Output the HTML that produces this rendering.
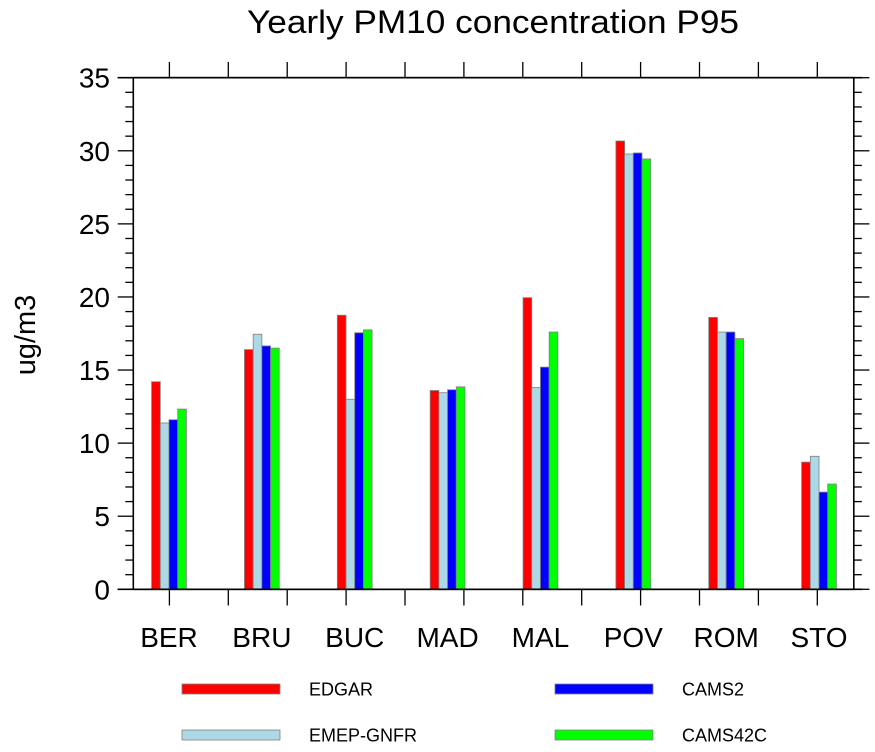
<!DOCTYPE html>
<html><head><meta charset="utf-8"><style>
html,body{margin:0;padding:0;background:#fff;width:875px;height:752px;overflow:hidden}
svg{display:block;font-family:"Liberation Sans",sans-serif}
</style></head><body>
<svg id="chart" width="875" height="752" viewBox="0 0 875 752" xmlns="http://www.w3.org/2000/svg">
<text x="493" y="33" font-size="32" text-anchor="middle" textLength="492" lengthAdjust="spacingAndGlyphs">Yearly PM10 concentration P95</text>
<text transform="translate(35,335) rotate(-90)" font-size="29" text-anchor="middle">ug/m3</text>
<g id="plot"></g>
</svg>
<script>
const categories = ["BER","BRU","BUC","MAD","MAL","POV","ROM","STO"];
const seriesNames = ["EDGAR","EMEP-GNFR","CAMS2","CAMS42C"];
const edgar = [14.2,16.4,18.75,13.6,19.95,30.67,18.6,8.7];
const emep = [11.38,17.45,13.0,13.45,13.8,29.78,17.6,9.1];
const cams2 = [11.6,16.65,17.55,13.65,15.2,29.85,17.6,6.65];
const cams42c = [12.33,16.5,17.75,13.85,17.6,29.44,17.15,7.2];
const yTicks = [0,5,10,15,20,25,30,35];
const colors = ["#ff0000","#add8e6","#0000ff","#00ff00"];
const NS="http://www.w3.org/2000/svg";
const g=document.getElementById('plot');
const L=133.3,R=853.8,T=77.7,B=589.3,yMax=35;
function y(v){return B-(v/yMax)*(B-T);}
function xc(i){return 169+i*92.86;}
const bw=8.7;
function mk(tag,attrs){const e=document.createElementNS(NS,tag);for(const k in attrs)e.setAttribute(k,attrs[k]);g.appendChild(e);return e;}
const series=[edgar,emep,cams2,cams42c];
series.forEach((s,si)=>{
  s.forEach((v,i)=>{
    const r=mk('rect',{x:xc(i)+(si-2)*bw,y:y(v),width:bw,height:B-y(v),fill:colors[si],stroke:'#808080','stroke-width':0.8});
    
    
  });
});
const fr=mk('rect',{x:L,y:T,width:R-L,height:B-T,fill:'none',stroke:'#000','stroke-width':1.6});


mk('line',{x1:117.7,y1:T,x2:862,y2:T,stroke:'#000','stroke-width':1.6});
mk('line',{x1:117.7,y1:B,x2:862,y2:B,stroke:'#000','stroke-width':1.6});
for(let v=0;v<=yMax;v++){
  const maj=v%5===0;
  const len=maj?15.6:8;
  mk('line',{x1:L-len,y1:y(v),x2:L,y2:y(v),stroke:'#000','stroke-width':1.3});
  mk('line',{x1:R,y1:y(v),x2:R+len,y2:y(v),stroke:'#000','stroke-width':1.3});
}
yTicks.forEach(v=>{
  const t=mk('text',{x:110,y:y(v)+10,'font-size':28,'text-anchor':'end'});
  t.textContent=v;
  
  
});
for(let k=0;k<12;k++){
  const x=169.4+k*58.9;
  mk('line',{x1:x,y1:62,x2:x,y2:T,stroke:'#000','stroke-width':1.3});
  mk('line',{x1:x,y1:B,x2:x,y2:605.5,stroke:'#000','stroke-width':1.3});
}
categories.forEach((c,i)=>{
  const t=mk('text',{x:xc(i),y:647,'font-size':28,'text-anchor':'middle'});
  t.textContent=c;
  
  
});
const legPos=[[182,689],[182,735],[555,689],[555,735]];
seriesNames.forEach((n,si)=>{
  const [lx,ly]=legPos[si];
  const r=mk('rect',{x:lx,y:ly-5,width:98,height:10,fill:colors[si],stroke:'#808080','stroke-width':0.8});
  
  
  const t=mk('text',{x:lx+127,y:ly+6.5,'font-size':18});
  t.textContent=n;
  
  
});
</script>
</body></html>
